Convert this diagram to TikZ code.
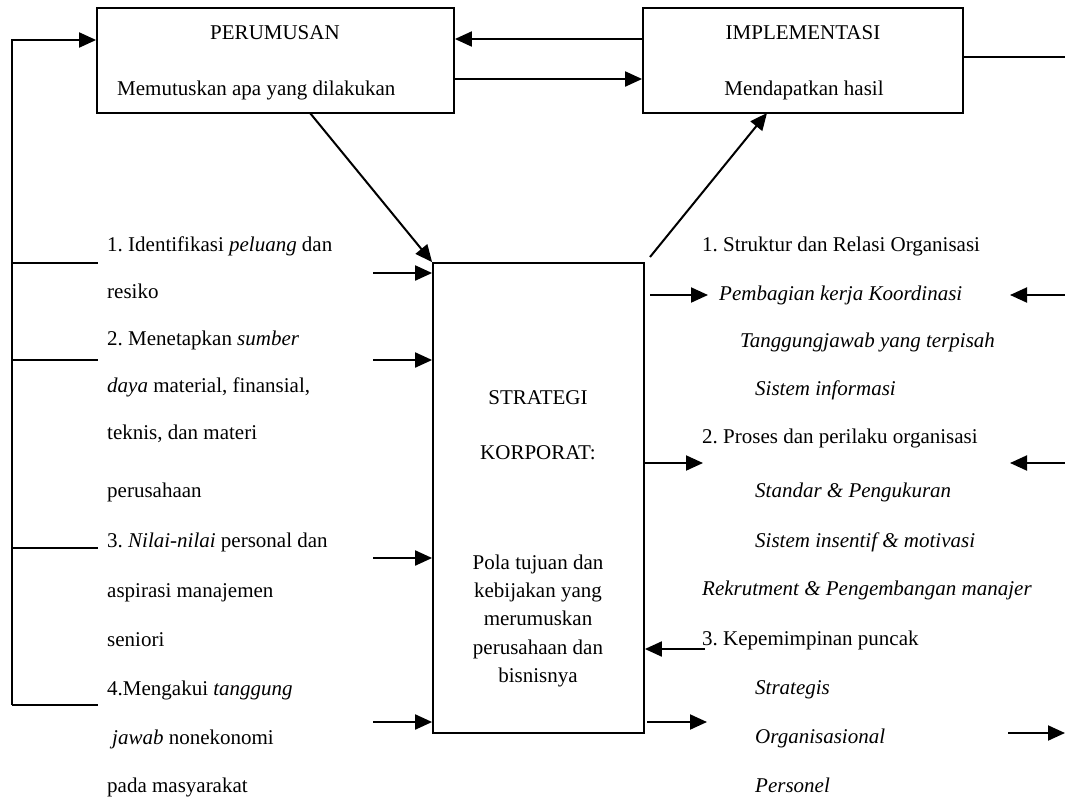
\documentclass[tikz,border=0pt]{standalone}
\usepackage{fontspec}
\setmainfont{Liberation Serif}
\usetikzlibrary{arrows.meta}
\frenchspacing
\begin{document}
\begin{tikzpicture}[x=1pt,y=-1pt,
  font=\fontsize{21}{25}\selectfont,
  boxnode/.style={draw,line width=1.8pt,inner sep=0pt,rectangle},
  arr/.style={line width=2pt,-{Triangle[length=17pt,width=15pt]}},
  plain/.style={line width=2pt},
  thin/.style={line width=1.2pt},
  lt/.style={anchor=base west,inner sep=0pt},
  ct/.style={anchor=base,inner sep=0pt}]
\useasboundingbox (0,0) rectangle (1065,798);
% boxes
\node[boxnode,minimum width=357pt,minimum height=105pt] (perumusan) at (275.5,60.5) {};
\node[boxnode,minimum width=320pt,minimum height=105pt] (implementasi) at (803,60.5) {};
\node[boxnode,minimum width=211pt,minimum height=470pt] (strategi) at (538.5,498) {};
% box texts
\node[ct] (pt1) at (275,39) {PERUMUSAN};
\node[lt] (pt2) at (117,95) {Memutuskan apa yang dilakukan};
\node[ct] (it1) at (803,39) {IMPLEMENTASI};
\node[ct] (it2) at (804,95) {Mendapatkan hasil};
\node[ct] (st1) at (538,404) {STRATEGI};
\node[ct] (st2) at (538,459) {KORPORAT:};
\node[ct] (st3) at (538,569) {Pola tujuan dan};
\node[ct] (st4) at (538,597) {kebijakan yang};
\node[ct] (st5) at (538,625) {merumuskan};
\node[ct] (st6) at (538,654) {perusahaan dan};
\node[ct] (st7) at (538,682) {bisnisnya};
% left texts
\node[lt] (l1) at (107,251) {1. Identifikasi \textit{peluang} dan};
\node[lt] (l2) at (107,298) {resiko};
\node[lt] (l3) at (107,345) {2. Menetapkan \textit{sumber}};
\node[lt] (l4) at (107,392) {\textit{daya} material, finansial,};
\node[lt] (l5) at (107,439) {teknis, dan materi};
\node[lt] (l6) at (107,497) {perusahaan};
\node[lt] (l7) at (107,547) {3. \textit{Nilai-nilai} personal dan};
\node[lt] (l8) at (107,597) {aspirasi manajemen};
\node[lt] (l9) at (107,646) {seniori};
\node[lt] (l10) at (107,695) {4.Mengakui \textit{tanggung}};
\node[lt] (l11) at (112,744) {\textit{jawab} nonekonomi};
\node[lt] (l12) at (107,792) {pada masyarakat};
% right texts
\node[lt] (r1) at (702,251) {1. Struktur dan Relasi Organisasi};
\node[lt] (r2) at (719,300) {\textit{Pembagian kerja Koordinasi}};
\node[lt] (r3) at (740,347) {\textit{Tanggungjawab yang terpisah}};
\node[lt] (r4) at (755,395) {\textit{Sistem informasi}};
\node[lt] (r5) at (702,443) {2. Proses dan perilaku organisasi};
\node[lt] (r6) at (755,497) {\textit{Standar \& Pengukuran}};
\node[lt] (r7) at (755,547) {\textit{Sistem insentif \& motivasi}};
\node[lt] (r8) at (702,595) {\textit{Rekrutment \& Pengembangan manajer}};
\node[lt] (r9) at (702,645) {3. Kepemimpinan puncak};
\node[lt] (r10) at (755,694) {\textit{Strategis}};
\node[lt] (r11) at (755,743) {\textit{Organisasional}};
\node[lt] (r12) at (755,792) {\textit{Personel}};
% coordinates for free ends
\coordinate (loopTop) at (12,40);
\coordinate (loopBot) at (12,705);
\coordinate (rightEnd) at (1065,57);
% top connectors
\draw[arr] (implementasi.west |- 0,39) -- (perumusan.east |- 0,39);
\draw[arr] (perumusan.east |- 0,79) -- (implementasi.west |- 0,79);
\draw[plain] (implementasi.east |- rightEnd) -- (rightEnd);
% left feedback loop
\draw[arr] (loopBot) -- (loopTop) -- (perumusan.west |- loopTop);
\draw[plain] (loopBot) -- (98,705);
\draw[thin] (12,263) -- (98,263);
\draw[thin] (12,360) -- (98,360);
\draw[thin] (12,548) -- (98,548);
% diagonals
\draw[arr] (310,113) -- (strategi.north west);
\draw[arr] (650,257) -- (767,113);
% inputs to strategi
\foreach \yy in {273,360,558,722}{
  \draw[arr] (373,\yy) -- (strategi.west |- 0,\yy);
}
% outputs of strategi
\draw[arr] (650,295) -- (708,295);
\draw[arr] (strategi.east |- 0,463) -- (703,463);
\draw[arr] (705,649) -- (strategi.east |- 0,649);
\draw[arr] (647,722) -- (707,722);
% far right arrows
\draw[arr] (1065,295) -- (1010,295);
\draw[arr] (1065,463) -- (1010,463);
\draw[arr] (1008,733) -- (1065,733);
\end{tikzpicture}
\end{document}
